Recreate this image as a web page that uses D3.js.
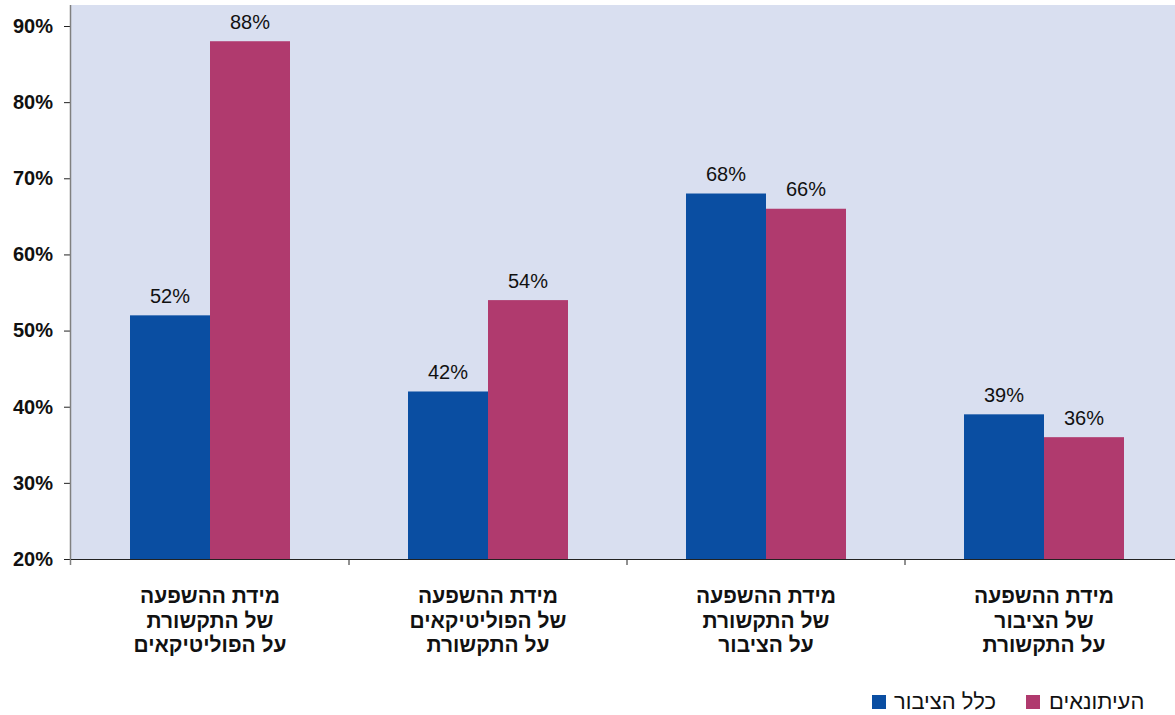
<!DOCTYPE html>
<html><head><meta charset="utf-8">
<script src="https://cdn.jsdelivr.net/npm/d3@7"></script>
<style>body{margin:0;background:#fff;}svg{display:block;font-family:"Liberation Sans",Arial,sans-serif;}</style>
</head><body>
<svg id="c" width="1175" height="715"></svg>
<script>
const categories = [
  ["מידת ההשפעה","של התקשורת","על הפוליטיקאים"],
  ["מידת ההשפעה","של הפוליטיקאים","על התקשורת"],
  ["מידת ההשפעה","של התקשורת","על הציבור"],
  ["מידת ההשפעה","של הציבור","על התקשורת"]
];
const seriesNames = ["כלל הציבור","העיתונאים"];
const publicValues = [52, 42, 68, 39];
const journalistValues = [88, 54, 66, 36];
const yTicks = [20,30,40,50,60,70,80,90];
const colors = ["#0a4ea2","#b03a6e"];

(function(){
const svg = d3.select("#c");
const mLeft = 71, mRight = 1183, mTop = 5, mBottom = 559;
const hebFont = "Liberation Sans, Arial, sans-serif";

function fitSize(str, bold, targetW) {
  const t = svg.append("text").attr("font-size", 20).attr("font-family", hebFont)
    .attr("font-weight", bold ? "bold" : "normal").text(str);
  const w = t.node().getComputedTextLength();
  t.remove();
  return 20 * targetW / w;
}
const catSize = fitSize("מידת ההשפעה", true, 140);
const legSize = Math.min(fitSize(seriesNames[1], false, 113), fitSize(seriesNames[0], false, 102));

const x = d3.scaleBand().domain(d3.range(categories.length)).range([mLeft, mRight]).paddingInner(0).paddingOuter(0);
const y = d3.scaleLinear().domain([20, 90]).range([mBottom, 26]);
const xs = d3.scaleBand().domain([0,1]).range([0, x.bandwidth()]).paddingInner(0).paddingOuter((278-160)/2/80);

svg.append("rect").attr("x", mLeft).attr("y", mTop).attr("width", 1175-mLeft).attr("height", mBottom-mTop).attr("fill","#d9dff0");

const series = [publicValues, journalistValues];
series.forEach((vals, si) => {
  const g = svg.append("g");
  g.selectAll("rect").data(vals).join("rect")
    .attr("x", (d,i) => x(i) + xs(si))
    .attr("y", d => y(d))
    .attr("width", xs.bandwidth())
    .attr("height", d => mBottom - y(d))
    .attr("fill", colors[si]);
  g.selectAll("text").data(vals).join("text")
    .attr("x", (d,i) => x(i) + xs(si) + xs.bandwidth()/2)
    .attr("y", d => y(d) - 12.5)
    .attr("text-anchor","middle")
    .attr("font-size", 20)
    .attr("fill","#111")
    .text(d => d + "%");
});

// y axis
const yAxis = svg.append("g").attr("transform", `translate(${mLeft},0)`)
  .call(d3.axisLeft(y).tickValues(yTicks).tickSize(7).tickPadding(11).tickFormat(d => d + "%"));
yAxis.select(".domain").remove();
yAxis.selectAll(".tick line").attr("stroke","#222");
yAxis.selectAll(".tick text").attr("font-size", 20).attr("font-weight","bold").attr("fill","#111").attr("font-family","Liberation Sans, Arial, sans-serif");
svg.append("line").attr("x1", mLeft-0.5).attr("x2", mLeft-0.5).attr("y1", mTop).attr("y2", mBottom+6).attr("stroke","#808080").attr("stroke-width",1.5);

// x axis
svg.append("line").attr("x1", mLeft).attr("x2", 1175).attr("y1", mBottom+0.5).attr("y2", mBottom+0.5).attr("stroke","#222").attr("stroke-width",1.2);
const bounds = d3.range(categories.length + 1).map(i => mLeft + i * x.bandwidth()).filter(v => v < 1175);
svg.selectAll(".xt").data(bounds.slice(1)).join("line")
  .attr("x1", d => d).attr("x2", d => d).attr("y1", mBottom).attr("y2", mBottom+6).attr("stroke","#222");

// category labels
categories.forEach((lines, i) => {
  const t = svg.append("text").attr("x", x(i) + x.bandwidth()/2)
    .attr("text-anchor","middle").attr("font-size", catSize).attr("font-weight","bold").attr("fill","#111")
    .attr("font-family", hebFont);
  lines.forEach((ln, k) => {
    t.append("tspan").attr("x", x(i) + x.bandwidth()/2).attr("y", 603 + k*24.5).text(ln);
  });
});

// legend
const legend = [{name: seriesNames[1], color: colors[1], sx: 1026, tx: 1049},
                {name: seriesNames[0], color: colors[0], sx: 872, tx: 894}];
legend.forEach(l => {
  svg.append("rect").attr("x", l.sx).attr("y", 695).attr("width", 14).attr("height", 14).attr("fill", l.color);
  const t = svg.append("text").attr("y", 709).attr("font-size", legSize).attr("fill","#111")
    .attr("font-family", hebFont)
    .attr("text-anchor","middle").text(l.name);
  const w = t.node().getComputedTextLength();
  t.attr("x", l.tx + w / 2);
});
})();
</script>
</body></html>
